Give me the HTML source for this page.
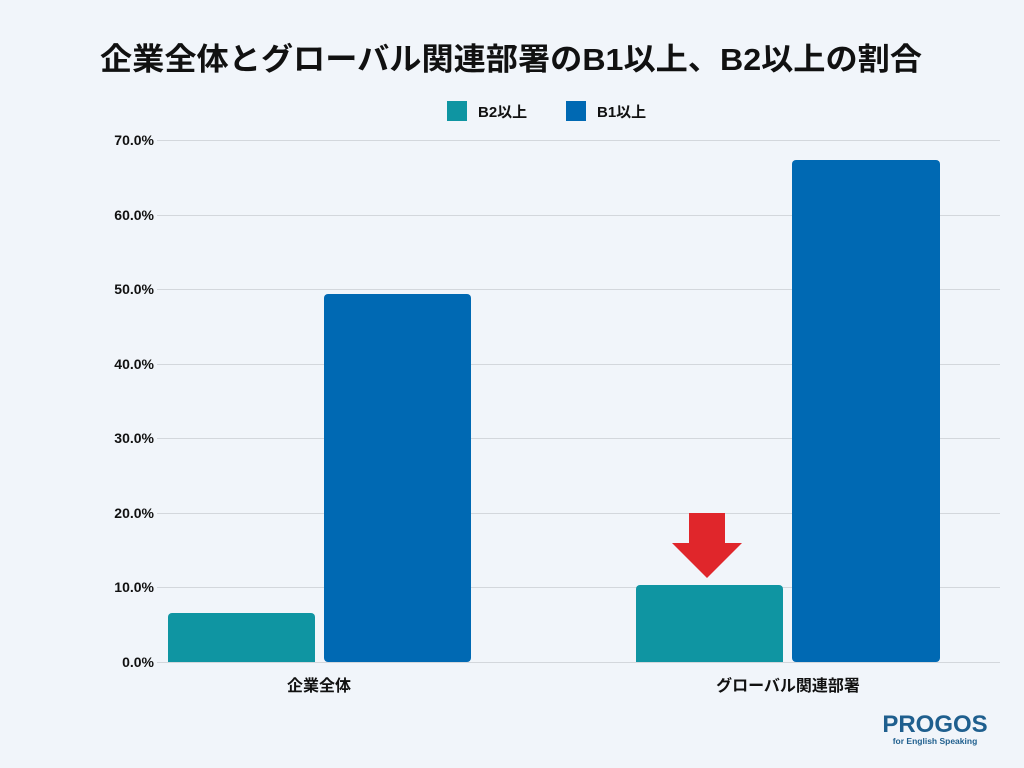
<!DOCTYPE html>
<html><head><meta charset="utf-8"><style>
html,body{margin:0;padding:0;background:#f1f5fa;}
svg{display:block;font-family:"Liberation Sans","Noto Sans CJK JP",sans-serif;}
</style></head><body>
<svg width="1024" height="768" viewBox="0 0 1024 768">
<rect width="1024" height="768" fill="#f1f5fa"/>
<text x="100" y="70" textLength="822" lengthAdjust="spacingAndGlyphs" font-size="31" font-weight="bold" fill="#111">企業全体とグローバル関連部署のB1以上、B2以上の割合</text>
<rect x="447" y="101" width="20" height="20" fill="#0f95a2"/>
<text x="478" y="117" font-size="15" font-weight="bold" fill="#111">B2以上</text>
<rect x="566" y="101" width="20" height="20" fill="#0069b3"/>
<text x="597" y="117" font-size="15" font-weight="bold" fill="#111">B1以上</text>
<g stroke="#d3d7dc" stroke-width="1">
<line x1="157" x2="1000" y1="140.5" y2="140.5"/>
<line x1="157" x2="1000" y1="215.5" y2="215.5"/>
<line x1="157" x2="1000" y1="289.5" y2="289.5"/>
<line x1="157" x2="1000" y1="364.5" y2="364.5"/>
<line x1="157" x2="1000" y1="438.5" y2="438.5"/>
<line x1="157" x2="1000" y1="513.5" y2="513.5"/>
<line x1="157" x2="1000" y1="587.5" y2="587.5"/>
<line x1="157" x2="1000" y1="662.5" y2="662.5"/>
</g>
<g font-size="14" font-weight="bold" fill="#111" text-anchor="end">
<text x="154" y="145">70.0%</text>
<text x="154" y="220">60.0%</text>
<text x="154" y="294">50.0%</text>
<text x="154" y="369">40.0%</text>
<text x="154" y="443">30.0%</text>
<text x="154" y="518">20.0%</text>
<text x="154" y="592">10.0%</text>
<text x="154" y="667">0.0%</text>
</g>
<rect x="168" y="613" width="147" height="49" rx="4" fill="#0f95a2"/>
<rect x="324" y="294" width="147" height="368" rx="4" fill="#0069b3"/>
<rect x="636" y="585" width="147" height="77" rx="4" fill="#0f95a2"/>
<rect x="792" y="160" width="148" height="502" rx="4" fill="#0069b3"/>
<rect x="168" y="658" width="147" height="4" fill="#0f95a2"/>
<rect x="636" y="658" width="147" height="4" fill="#0f95a2"/>
<polygon points="689,513 725,513 725,543 742,543 707,578 672,543 689,543" fill="#e0262b"/>
<g font-size="16" font-weight="bold" fill="#111" text-anchor="middle">
<text x="319" y="691">企業全体</text>
<text x="788" y="691">グローバル関連部署</text>
</g>
<text x="935" y="732" text-anchor="middle" font-size="24" font-weight="bold" fill="#1f5f8e">PROGOS</text>
<text x="935" y="744" text-anchor="middle" font-size="8.5" font-weight="bold" fill="#1f5f8e">for English Speaking</text>
</svg>
</body></html>
